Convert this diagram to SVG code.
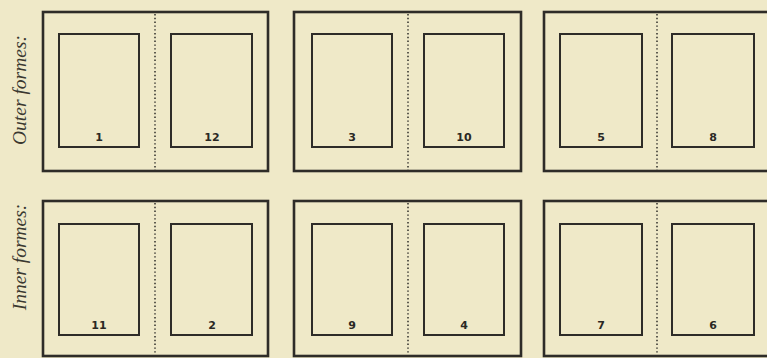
<svg xmlns="http://www.w3.org/2000/svg" width="767" height="358" viewBox="0 0 767 358">
<style>
.frame{fill:none;stroke:#2e2c28;stroke-width:2.6}
.page{fill:none;stroke:#2e2c28;stroke-width:2}
.fold{stroke:#3a3832;stroke-width:1.6;stroke-dasharray:1.4 2.4}
.num{font-family:"DejaVu Sans",sans-serif;font-weight:bold;font-size:11px;fill:#2a2824;text-anchor:middle}
.lbl{font-family:"Liberation Serif",serif;font-style:italic;font-size:19.5px;fill:#3a3830;text-anchor:middle}
</style>
<rect width="767" height="358" fill="#efe9c8"/>
<text class="lbl" transform="translate(26,90) rotate(-90)">Outer formes:</text>
<text class="lbl" transform="translate(26,257) rotate(-90)">Inner formes:</text>
<g id="outer1">
<rect class="frame" x="43" y="12" width="225" height="159"/>
<rect class="page" x="59" y="34" width="80" height="113"/>
<rect class="page" x="171" y="34" width="81" height="113"/>
<text class="num" x="99" y="141">1</text>
<text class="num" x="212" y="141">12</text>
</g>
<g id="outer2">
<rect class="frame" x="294" y="12" width="227" height="159"/>
<rect class="page" x="312" y="34" width="80" height="113"/>
<rect class="page" x="424" y="34" width="80" height="113"/>
<text class="num" x="352" y="141">3</text>
<text class="num" x="464" y="141">10</text>
</g>
<g id="outer3">
<rect class="frame" x="544" y="12" width="230" height="159"/>
<rect class="page" x="560" y="34" width="82" height="113"/>
<rect class="page" x="672" y="34" width="82" height="113"/>
<text class="num" x="601" y="141">5</text>
<text class="num" x="713" y="141">8</text>
</g>
<g id="inner1">
<rect class="frame" x="43" y="201" width="225" height="155"/>
<rect class="page" x="59" y="224" width="80" height="111"/>
<rect class="page" x="171" y="224" width="81" height="111"/>
<text class="num" x="99" y="329">11</text>
<text class="num" x="212" y="329">2</text>
</g>
<g id="inner2">
<rect class="frame" x="294" y="201" width="227" height="155"/>
<rect class="page" x="312" y="224" width="80" height="111"/>
<rect class="page" x="424" y="224" width="80" height="111"/>
<text class="num" x="352" y="329">9</text>
<text class="num" x="464" y="329">4</text>
</g>
<g id="inner3">
<rect class="frame" x="544" y="201" width="230" height="155"/>
<rect class="page" x="560" y="224" width="82" height="111"/>
<rect class="page" x="672" y="224" width="82" height="111"/>
<text class="num" x="601" y="329">7</text>
<text class="num" x="713" y="329">6</text>
</g>
<g id="connectors">
<line class="fold" x1="155" y1="14" x2="155" y2="170"/>
<line class="fold" x1="408" y1="14" x2="408" y2="170"/>
<line class="fold" x1="657" y1="14" x2="657" y2="170"/>
<line class="fold" x1="155" y1="203" x2="155" y2="355"/>
<line class="fold" x1="408" y1="203" x2="408" y2="355"/>
<line class="fold" x1="657" y1="203" x2="657" y2="355"/>
</g>
</svg>
